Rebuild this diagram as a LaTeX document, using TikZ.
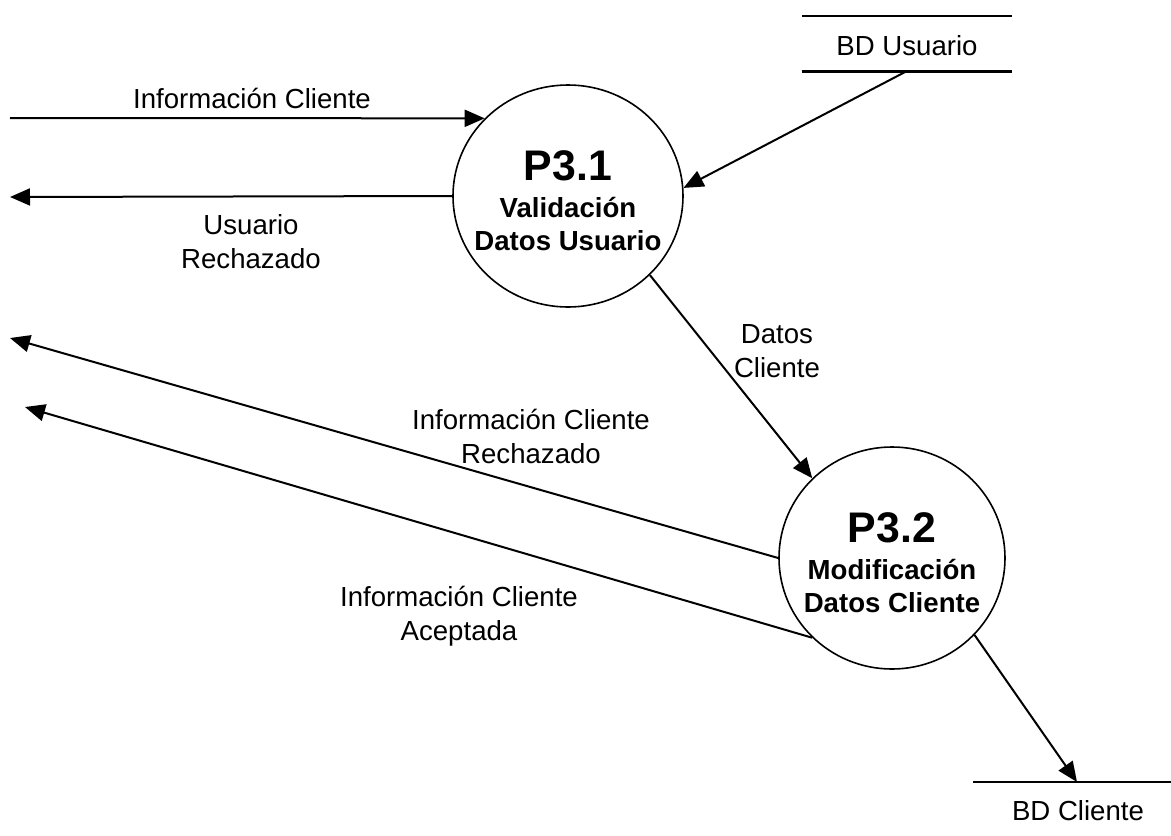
\documentclass[tikz,border=0pt]{standalone}
\usepackage{fontspec}
\setmainfont{Liberation Sans}
\usetikzlibrary{arrows.meta,shapes.geometric}

\newcommand{\pnum}[1]{{\fontsize{42.8}{44}\selectfont\rule{0pt}{40pt}#1}}

\tikzset{
  process/.style={draw, line width=1.6pt, ellipse, inner xsep=-40pt, inner ysep=-40pt,
    align=center, font=\bfseries\fontsize{27.6}{33}\selectfont},
  flow/.style={line width=2pt, -{Triangle[length=20pt,width=17pt]}},
  storeline/.style={line width=2.6pt},
  lbl/.style={align=center, inner sep=0pt, font=\fontsize{27.6}{34}\selectfont},
  store/.style={minimum width=210pt, minimum height=55pt, inner sep=0pt,
    text height=23pt, text depth=0pt, font=\fontsize{27.6}{34}\selectfont},
}

\begin{document}
\begin{tikzpicture}[x=1pt,y=-1pt]
\useasboundingbox[fill=white] (0,0) rectangle (1171,836);

% processes
\node[process, minimum width=230pt, minimum height=222pt] (p31) at (568,196)
  {\pnum{P3.1}\\[4pt]Validación\\Datos Usuario};
\node[process, minimum width=226pt, minimum height=222pt] (p32) at (892,558)
  {\pnum{P3.2}\\[4pt]Modificación\\Datos Cliente};

% data store: BD Usuario (open box, top and bottom lines)
\node[store] (bdu) at (907,43.5) {BD Usuario};
\draw[storeline] (bdu.north west) -- (bdu.north east);
\draw[storeline] (bdu.south west) -- (bdu.south east);
\coordinate (bduOut) at (907,71);

% data store: BD Cliente (single top line)
\coordinate (bdcL) at (973,782);
\coordinate (bdcR) at (1171,782);
\coordinate (bdcIn) at (1077,782);
\draw[storeline] (bdcL) -- (bdcR);
\node[lbl, anchor=base] (bdc) at (1078,820) {BD Cliente};

% free ends on the left edge
\coordinate (icIn)  at (10,118);
\coordinate (urOut) at (10,197);
\coordinate (irOut) at (10,338);
\coordinate (iaOut) at (25,407);

% flows
\draw[flow] (icIn) -- (p31.137);
\draw[flow] (p31.180) -- (urOut);
\draw[flow] (bduOut) -- (p31.4.5);
\draw[flow] (p31.-44) -- (p32.135);
\draw[flow] (p32.180) -- (irOut);
\draw[flow] (p32.225) -- (iaOut);
\draw[flow] (p32.-43) -- (bdcIn);

% flow labels
\node[lbl, anchor=base] (lic) at (252,108) {Información Cliente};
\node[lbl] (lur) at (251,242) {Usuario\\Rechazado};
\node[lbl] (ldc) at (777,351) {Datos\\Cliente};
\node[lbl] (lir) at (531,436) {Información Cliente\\Rechazado};
\node[lbl] (lia) at (459,616) {Información Cliente\\Aceptada};
\end{tikzpicture}
\end{document}
